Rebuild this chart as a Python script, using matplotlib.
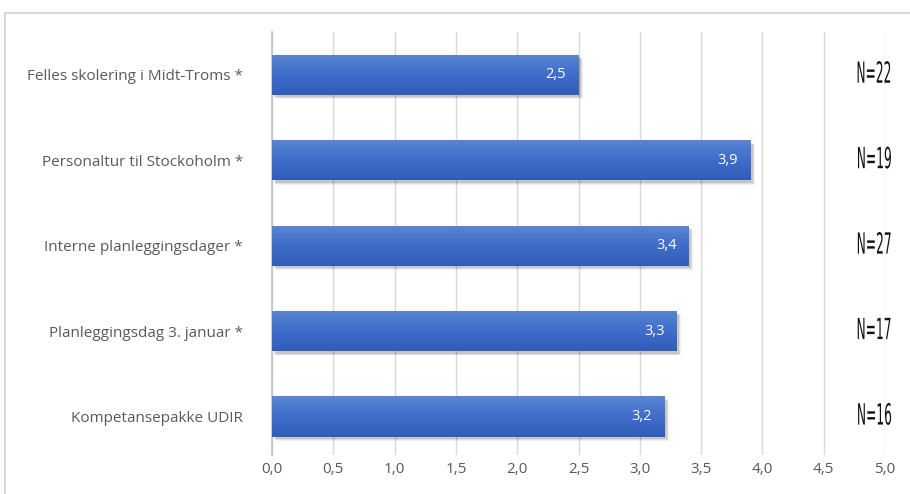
import matplotlib
matplotlib.use('Agg')
import matplotlib.pyplot as plt
import matplotlib.patheffects as pe
from matplotlib.patches import Rectangle
from matplotlib.transforms import Affine2D
from matplotlib.ticker import FuncFormatter
import numpy as np

# Tiltak og gjennomsnittlig vurdering (N = antall svar)
tiltak = ['Felles skolering i Midt-Troms *',
          'Personaltur til Stockoholm *',
          'Interne planleggingsdager *',
          'Planleggingsdag 3. januar *',
          'Kompetansepakke UDIR']
snitt = [2.5, 3.9, 3.4, 3.3, 3.2]
antall = [22, 19, 27, 17, 16]

plt.rcParams['font.family'] = ['Open Sans', 'DejaVu Sans']


class Squeeze(pe.AbstractPathEffect):
    """Smalere skrift: skalerer tekststien horisontalt mot høyre kant."""
    def __init__(self, sx):
        super().__init__()
        self.sx = sx

    def draw_path(self, renderer, gc, tpath, affine, rgbFace=None):
        x1 = tpath.get_extents().x1
        t = Affine2D().translate(-x1, 0).scale(self.sx, 1).translate(x1, 0) + affine
        renderer.draw_path(gc, tpath, t, rgbFace)


fig = plt.figure(figsize=(9.1, 4.94), dpi=100)
ax = fig.add_axes([272 / 910, 1 - 455 / 494, 613 / 910, 423 / 494])

# ramme rundt diagrammet
fig.patches.append(Rectangle((5 / 910, -0.1), 2, 1 - 13 / 494 + 0.1,
                             transform=fig.transFigure, fill=False,
                             edgecolor='#d9d9d9', linewidth=1.5))

y = np.arange(len(tiltak))
h = 0.47
grad = np.linspace(0, 1, 64).reshape(-1, 1)
cmap = matplotlib.colors.LinearSegmentedColormap.from_list(
    'blaa', ['#5b86d3', '#3f6dc9', '#2f5db9'])

for yi, v in zip(y, snitt):
    # skygge
    for k, a in enumerate([0.10, 0.08, 0.06]):
        ax.add_patch(Rectangle((0.02 + k * 0.008, yi - h / 2 + 0.03 + k * 0.01), v, h,
                               facecolor='black', alpha=a, linewidth=0, zorder=2))
    bar = ax.barh(yi, v, height=h, color='#3f6dc9', zorder=3)[0]
    im = ax.imshow(grad, cmap=cmap, aspect='auto', zorder=4,
                   extent=(0, v, yi + h / 2, yi - h / 2))
    im.set_clip_path(bar)
    ax.text(v - 0.1, yi, f'{v:.1f}'.replace('.', ','), color='white',
            ha='right', va='center', fontsize=10.5, zorder=5)

for yi, n in zip(y, antall):
    ax.text(5.065, yi, f'N={n}', ha='right', va='center', fontsize=21,
            color='#111111', family='DejaVu Sans',
            path_effects=[Squeeze(0.42)], zorder=5)

ax.set_xlim(0, 5)
ax.set_ylim(len(tiltak) - 0.55, -0.5)
ax.set_xticks(np.arange(0, 5.01, 0.5))
ax.xaxis.set_major_formatter(FuncFormatter(lambda x, p: f'{x:.1f}'.replace('.', ',')))
ax.set_yticks(y)
ax.set_yticklabels(tiltak)
ax.tick_params(axis='both', length=0, labelsize=11, labelcolor='#595959')
ax.tick_params(axis='y', pad=21)
ax.tick_params(axis='x', pad=5)
ax.grid(axis='x', color='#d9d9d9', linewidth=1, zorder=0)
ax.set_axisbelow(True)
for s in ['top', 'right', 'bottom']:
    ax.spines[s].set_visible(False)
ax.spines['left'].set_color('#bfbfbf')
ax.spines['left'].set_linewidth(1.2)

fig.savefig('out.png', dpi=100)
